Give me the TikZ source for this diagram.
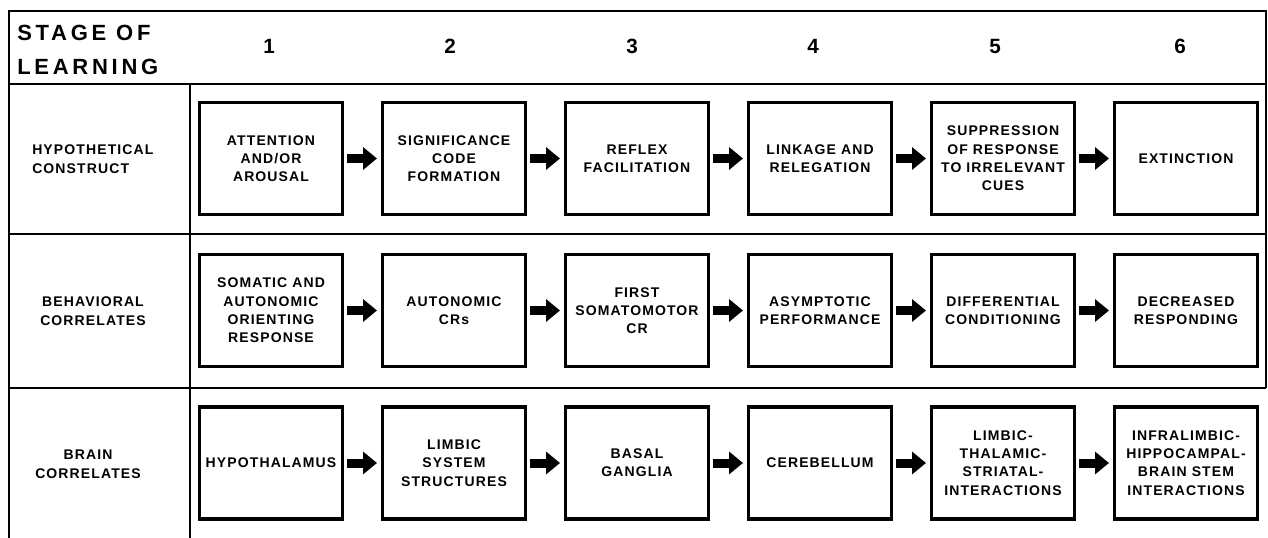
\documentclass[tikz,border=0pt]{standalone}
\usepackage{fontspec}
\setmainfont{Liberation Sans}[LetterSpace=8]
\newfontfamily\headfont{Liberation Sans}[LetterSpace=17]
\usetikzlibrary{arrows.meta}
\begin{document}
\begin{tikzpicture}[x=0.75pt, y=-0.75pt,
        mygridstyle/.style={draw=black, line width=1.6pt},
        myboxstyle/.style={draw=black, line width=2.5pt, minimum width=107pt, minimum height=84pt, inner sep=0pt, align=center, font=\bfseries\fontsize{10.5}{13.7}\selectfont},
        mylblstyle/.style={inner sep=0pt, font=\bfseries\fontsize{10.5}{14.3}\selectfont},
        mynumstyle/.style={inner sep=0pt, font=\bfseries\fontsize{15.5}{18}\selectfont},
        myarrowstyle/.style={draw=black, line width=6.75pt, -{Triangle[length=10.5pt, width=16.5pt]}, shorten <=2.25pt, shorten >=3pt}]
        \useasboundingbox (0,0) rectangle (1268,538);
        \draw[mygridstyle](9,538)--(9,11)--(1266,11)--(1266,388);
        \draw[mygridstyle](9,84)--(1266,84);
        \draw[mygridstyle](9,234)--(1266,234);
        \draw[mygridstyle](9,388)--(1266,388);
        \draw[mygridstyle](190,84)--(190,538);
        \node[anchor=west, inner sep=0pt, align=left, font=\headfont\bfseries\fontsize{16.5}{25.5}\selectfont] (stagelbl) at (17,49.5) {STAGE OF\\LEARNING};
        \node[mynumstyle] (st1) at (269,46) {1};
        \node[mynumstyle] (st2) at (450,46) {2};
        \node[mynumstyle] (st3) at (632,46) {3};
        \node[mynumstyle] (st4) at (813,46) {4};
        \node[mynumstyle] (st5) at (995,46) {5};
        \node[mynumstyle] (st6) at (1180,46) {6};
        \node[mylblstyle, anchor=west, align=left] (lblhyp) at (32,159.5) {HYPOTHETICAL\\CONSTRUCT};
        \node[mylblstyle, align=center] (lblbeh) at (93,311.5) {BEHAVIORAL\\CORRELATES};
        \node[mylblstyle, align=center] (lblbrn) at (88,464) {BRAIN\\CORRELATES};
        \node[myboxstyle] (hyp1) at (271,158.5) {ATTENTION\\AND/OR\\AROUSAL};
        \node[myboxstyle] (hyp2) at (454,158.5) {SIGNIFICANCE\\CODE\\FORMATION};
        \node[myboxstyle] (hyp3) at (637,158.5) {REFLEX\\FACILITATION};
        \node[myboxstyle] (hyp4) at (820,158.5) {LINKAGE AND\\RELEGATION};
        \node[myboxstyle] (hyp5) at (1003,158.5) {SUPPRESSION\\OF RESPONSE\\TO IRRELEVANT\\CUES};
        \node[myboxstyle] (hyp6) at (1186,158.5) {EXTINCTION};
        \node[myboxstyle] (beh1) at (271,310.5) {SOMATIC AND\\AUTONOMIC\\ORIENTING\\RESPONSE};
        \node[myboxstyle] (beh2) at (454,310.5) {AUTONOMIC\\CRs};
        \node[myboxstyle] (beh3) at (637,310.5) {FIRST\\SOMATOMOTOR\\CR};
        \node[myboxstyle] (beh4) at (820,310.5) {ASYMPTOTIC\\PERFORMANCE};
        \node[myboxstyle] (beh5) at (1003,310.5) {DIFFERENTIAL\\CONDITIONING};
        \node[myboxstyle] (beh6) at (1186,310.5) {DECREASED\\RESPONDING};
        \node[myboxstyle] (brn1) at (271,463) {HYPOTHALAMUS};
        \node[myboxstyle] (brn2) at (454,463) {LIMBIC\\SYSTEM\\STRUCTURES};
        \node[myboxstyle] (brn3) at (637,463) {BASAL\\GANGLIA};
        \node[myboxstyle] (brn4) at (820,463) {CEREBELLUM};
        \node[myboxstyle] (brn5) at (1003,463) {LIMBIC-\\THALAMIC-\\STRIATAL-\\INTERACTIONS};
        \node[myboxstyle] (brn6) at (1186,463) {INFRALIMBIC-\\HIPPOCAMPAL-\\BRAIN STEM\\INTERACTIONS};
        \draw[myarrowstyle](hyp1)--(hyp2);
        \draw[myarrowstyle](hyp2)--(hyp3);
        \draw[myarrowstyle](hyp3)--(hyp4);
        \draw[myarrowstyle](hyp4)--(hyp5);
        \draw[myarrowstyle](hyp5)--(hyp6);
        \draw[myarrowstyle](beh1)--(beh2);
        \draw[myarrowstyle](beh2)--(beh3);
        \draw[myarrowstyle](beh3)--(beh4);
        \draw[myarrowstyle](beh4)--(beh5);
        \draw[myarrowstyle](beh5)--(beh6);
        \draw[myarrowstyle](brn1)--(brn2);
        \draw[myarrowstyle](brn2)--(brn3);
        \draw[myarrowstyle](brn3)--(brn4);
        \draw[myarrowstyle](brn4)--(brn5);
        \draw[myarrowstyle](brn5)--(brn6);
    \end{tikzpicture}
\end{document}
